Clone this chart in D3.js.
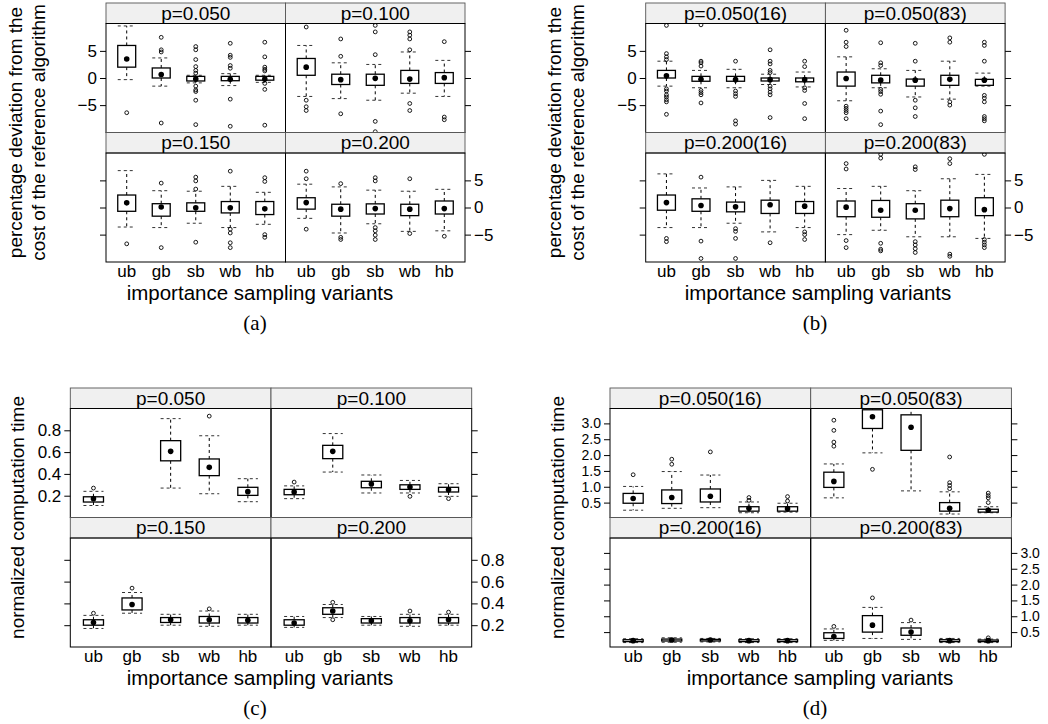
<!DOCTYPE html>
<html>
<head>
<meta charset="utf-8">
<script src="https://cdn.jsdelivr.net/npm/d3@7"></script>
<style>
  body { margin: 0; background: #fff; }
  text { font-family: "Liberation Sans", Arial, sans-serif; fill: #000; }
</style>
</head>
<body>
<div id="chart"></div>
<script>
// box plot data: [lower whisker, Q1, median, Q3, upper whisker] per variant, one block per panel
var categories = ["ub", "gb", "sb", "wb", "hb"];

var panelsA = ["p=0.050", "p=0.100", "p=0.150", "p=0.200"];
var panelsB = ["p=0.050(16)", "p=0.050(83)", "p=0.200(16)", "p=0.200(83)"];

var ticksDev = [-5, 0, 5];
var ticksC = [0.2, 0.4, 0.6, 0.8];
var ticksD = [0.5, 1.0, 1.5, 2.0, 2.5, 3.0];

var boxesA = [
  [[-0.3, 2.0, 3.5, 6.0, 9.6], [-1.5, 0.0, 0.65, 1.85, 3.7], [-0.9, -0.55, -0.2, 0.3, 0.5], [-1.4, -0.5, -0.25, 0.3, 0.8], [-0.8, -0.4, -0.2, 0.3, 0.5]],
  [[-3.4, 0.5, 2.0, 3.6, 6.0], [-3.8, -1.2, -0.3, 0.7, 2.8], [-4.1, -1.35, -0.06, 0.7, 2.5], [-2.8, -1.0, -0.2, 1.4, 4.8], [-3.4, -1.0, 0.06, 1.0, 3.25]],
  [[-3.6, -0.7, 0.86, 2.3, 6.8], [-3.7, -1.6, 0.1, 0.7, 3.1], [-2.9, -0.7, -0.06, 0.86, 3.0], [-3.7, -1.0, -0.06, 1.1, 3.9], [-3.1, -1.3, -0.25, 1.1, 2.8]],
  [[-2.0, -0.3, 0.9, 1.8, 4.3], [-4.7, -1.6, -0.3, 0.6, 3.8], [-3.0, -1.2, -0.2, 0.67, 3.2], [-4.4, -1.5, -0.3, 0.6, 3.0], [-4.3, -1.2, -0.2, 1.2, 3.35]]
];
var outliersA = [
  [[-6.4], [7.5, 5.2, 4.8, -8.3], [5.8, 5.2, 3.4, 2.1, 1.4, 0.9, -1.5, -2.2, -2.5, -4.1, -8.6], [6.4, 4.2, 3.8, 2.3, 1.8, -3.9, -8.9], [6.6, 3.9, 2.0, 1.6, 1.3, -1.0, -2.1, -8.7]],
  [[9.4, -4.1, -5.3, -6.0], [7.2, 4.0, -6.6], [9.7, 8.5, 4.3, -8.0, -9.9], [8.5, 7.9, 7.2, 5.2, -4.7, -6.0], [6.7, -7.2, -7.7]],
  [[-6.7], [4.5, -7.4], [5.6, 4.9, 3.4, -6.4], [6.7, -4.0, -4.7, -6.5, -7.4], [5.5, 4.8, -5.0, -5.5]],
  [[6.7, 5.3, -4.0], [4.4, -5.5, -5.9], [5.5, 4.9, -3.7, -4.3, -5.1, -5.9], [5.3, -4.8], [-5.3]]
];

var boxesB = [
  [[-1.5, 0.0, 0.4, 1.4, 3.1], [-1.8, -0.6, -0.25, 0.3, 1.4], [-1.8, -0.6, -0.3, 0.3, 1.6], [-1.2, -0.55, -0.3, 0.0, 0.7], [-1.65, -0.7, -0.3, 0.0, 1.1]],
  [[-4.2, -1.5, -0.1, 1.1, 3.9], [-1.8, -0.9, -0.4, 0.5, 1.7], [-3.5, -1.5, -0.4, -0.2, 1.4], [-3.9, -1.35, -0.25, 0.5, 3.1], [-1.5, -1.35, -0.4, -0.25, 0.9]],
  [[-3.7, -0.5, 0.9, 2.3, 6.2], [-3.7, -0.7, 0.37, 1.6, 3.6], [-2.9, -0.8, 0.12, 1.0, 3.8], [-4.5, -1.1, 0.5, 1.35, 5.0], [-3.7, -1.1, 0.25, 1.1, 3.9]],
  [[-5.0, -1.7, 0.06, 1.2, 3.5], [-4.2, -1.8, -0.5, 1.3, 3.9], [-5.4, -2.1, -0.5, 0.7, 3.1], [-5.4, -1.7, -0.2, 1.35, 5.3], [-5.7, -1.5, -0.4, 1.8, 6.1]]
];
var outliersB = [
  [[9.7, 4.5, 3.9, 3.4, -2.0, -2.4, -3.1, -3.5, -4.0, -4.4, -6.7], [9.8, 3.1, 2.8, 2.2, -2.3, -2.7, -3.1, -4.6], [3.1, -2.4, -2.9, -3.4, -7.9, -8.5], [5.2, 3.1, 2.6, 1.4, 1.0, -1.5, -2.0, -2.6, -3.1, -7.3], [3.1, 2.1, -1.8, -2.3, -4.7, -7.5]],
  [[8.8, 6.6, 5.8, -5.2, -5.6, -6.0, -6.4, -7.5], [6.5, 2.8, 2.3, -2.1, -2.5, -3.0, -6.1, -8.6], [6.4, 3.1, -4.1, -5.5, -7.1], [7.4, 6.6, -4.4, -5.0], [6.6, 6.0, 3.1, -3.2, -3.7, -4.4, -7.1, -7.5, -7.9]],
  [[-5.7, -6.3], [5.6, -6.2, -9.4], [-3.9, -4.4, -5.7, -9.4], [-6.5], [-4.5, -5.0, -5.9]],
  [[8.1, 7.1, -6.1, -7.4], [9.8, 9.1, -6.6, -7.7, -8.0], [7.5, 7.0, -6.3, -6.9, -7.6, -8.3], [9.0, 8.1, -8.6, -9.0], [9.8, -5.9, -6.4, -6.9, -7.4]]
];

var boxesC = [
  [[0.11, 0.142, 0.173, 0.19, 0.24], [1.1, 1.3, 1.45, 1.6, 1.9], [0.27, 0.52, 0.607, 0.705, 0.907], [0.218, 0.384, 0.46, 0.537, 0.75], [0.145, 0.203, 0.237, 0.277, 0.356]],
  [[0.173, 0.209, 0.234, 0.258, 0.29], [0.417, 0.54, 0.607, 0.662, 0.77], [0.225, 0.273, 0.307, 0.332, 0.39], [0.225, 0.258, 0.28, 0.3, 0.34], [0.194, 0.234, 0.255, 0.277, 0.31]],
  [[0.17, 0.2, 0.225, 0.25, 0.29], [0.31, 0.34, 0.39, 0.45, 0.5], [0.2, 0.225, 0.25, 0.27, 0.3], [0.19, 0.22, 0.25, 0.28, 0.33], [0.2, 0.22, 0.245, 0.27, 0.3]],
  [[0.18, 0.2, 0.22, 0.25, 0.28], [0.27, 0.3, 0.33, 0.36, 0.39], [0.2, 0.22, 0.24, 0.26, 0.28], [0.19, 0.22, 0.24, 0.27, 0.3], [0.2, 0.22, 0.25, 0.27, 0.3]]
];
var outliersC = [
  [[0.27], [], [], [0.93], []],
  [[0.325], [], [], [0.194], [0.173]],
  [[0.31], [0.54], [], [0.35], []],
  [[], [0.25, 0.41], [], [0.33], [0.32]]
];

var boxesD = [
  [[0.26, 0.48, 0.63, 0.79, 1.01], [0.32, 0.47, 0.66, 0.9, 1.48], [0.34, 0.52, 0.7, 0.93, 1.37], [0.18, 0.23, 0.32, 0.37, 0.52], [0.2, 0.23, 0.31, 0.37, 0.48]],
  [[0.65, 0.98, 1.17, 1.46, 1.72], [2.07, 2.84, 3.21, 3.43, 3.6], [0.87, 2.15, 2.88, 3.27, 3.6], [0.14, 0.23, 0.32, 0.5, 0.84], [0.18, 0.2, 0.26, 0.29, 0.37]],
  [[0.17, 0.2, 0.23, 0.26, 0.29], [0.18, 0.22, 0.25, 0.28, 0.32], [0.19, 0.22, 0.25, 0.27, 0.3], [0.17, 0.2, 0.23, 0.26, 0.29], [0.17, 0.2, 0.23, 0.26, 0.29]],
  [[0.24, 0.3, 0.36, 0.48, 0.6], [0.3, 0.5, 0.72, 1.02, 1.28], [0.27, 0.4, 0.5, 0.63, 0.8], [0.17, 0.2, 0.23, 0.26, 0.3], [0.17, 0.2, 0.23, 0.25, 0.28]]
];
var outliersD = [
  [[1.38], [1.87, 1.71], [2.1], [0.66, 0.57], [0.69, 0.55]],
  [[3.1, 2.78, 2.41, 2.28], [1.55], [], [1.94, 1.13, 1.04, 0.94], [0.8, 0.72, 0.65, 0.5]],
  [[], [], [], [], []],
  [[0.68], [1.58], [0.88], [], [0.32]]
];

var svg = d3.select("#chart").append("svg")
  .attr("width", 1048)
  .attr("height", 724)
  .style("display", "block");
svg.append("rect").attr("width", 1048).attr("height", 724).attr("fill", "#fff");

var clipId = 0;

function drawFigure(f) {
  var g = svg.append("g");
  var stripH = 20.5, panelH = 109;
  var boxW = f.colW * 0.1;

  var x = d3.scalePoint()
    .domain(categories)
    .range([0, f.colW])
    .padding(0.6);

  f.panels.forEach(function (label, i) {
    var col = i % 2, row = Math.floor(i / 2);
    var px = f.left + col * f.colW;
    var stripTop = f.top + row * (stripH + panelH);
    var panelTop = stripTop + stripH;

    var y = d3.scaleLinear()
      .domain(f.domain)
      .range([panelTop + panelH, panelTop]);

    // strip
    g.append("rect")
      .attr("x", px).attr("y", stripTop)
      .attr("width", f.colW).attr("height", stripH)
      .attr("fill", "#f0f0f0")
      .attr("stroke", "#555").attr("stroke-width", 0.9);
    g.append("text")
      .attr("x", px + f.colW / 2).attr("y", stripTop + stripH / 2 + 6.5)
      .attr("text-anchor", "middle")
      .attr("font-size", "19px")
      .text(label);

    // boxes, clipped to the panel
    clipId++;
    g.append("clipPath").attr("id", "clip" + clipId)
      .append("rect")
      .attr("x", px).attr("y", panelTop)
      .attr("width", f.colW).attr("height", panelH);

    var pg = g.append("g")
      .attr("clip-path", "url(#clip" + clipId + ")")
      .append("g")
      .attr("transform", "translate(" + px + ",0)");

    var stats = f.boxes[i];
    var bx = pg.selectAll("g.box")
      .data(categories)
      .enter().append("g")
      .attr("class", "box");

    // whiskers
    bx.append("line")
      .attr("x1", d => x(d)).attr("x2", d => x(d))
      .attr("y1", (d, j) => y(stats[j][3])).attr("y2", (d, j) => y(stats[j][4]))
      .attr("stroke", "#000").attr("stroke-width", 1).attr("stroke-dasharray", "3,3");
    bx.append("line")
      .attr("x1", d => x(d)).attr("x2", d => x(d))
      .attr("y1", (d, j) => y(stats[j][1])).attr("y2", (d, j) => y(stats[j][0]))
      .attr("stroke", "#000").attr("stroke-width", 1).attr("stroke-dasharray", "3,3");
    // whisker caps
    [0, 4].forEach(function (k) {
      bx.append("line")
        .attr("x1", d => x(d) - boxW / 2).attr("x2", d => x(d) + boxW / 2)
        .attr("y1", (d, j) => y(stats[j][k])).attr("y2", (d, j) => y(stats[j][k]))
        .attr("stroke", "#333").attr("stroke-width", 1).attr("stroke-dasharray", "3,3");
    });
    // box
    bx.append("rect")
      .attr("x", d => x(d) - boxW / 2)
      .attr("y", (d, j) => y(stats[j][3]))
      .attr("width", boxW)
      .attr("height", (d, j) => Math.max(0, y(stats[j][1]) - y(stats[j][3])))
      .attr("fill", "#fff")
      .attr("stroke", "#000").attr("stroke-width", 1.3);
    // median dot
    bx.append("circle")
      .attr("cx", d => x(d))
      .attr("cy", (d, j) => y(stats[j][2]))
      .attr("r", 2.8)
      .attr("fill", "#000");
    // outliers
    bx.each(function (d, j) {
      d3.select(this).selectAll("circle.out")
        .data(f.outliers[i][j])
        .enter().append("circle")
        .attr("class", "out")
        .attr("cx", x(d))
        .attr("cy", v => y(v))
        .attr("r", 1.9)
        .attr("fill", "none")
        .attr("stroke", "#000").attr("stroke-width", 0.9);
    });

    // panel frame
    g.append("rect")
      .attr("x", px).attr("y", panelTop)
      .attr("width", f.colW).attr("height", panelH)
      .attr("fill", "none")
      .attr("stroke", "#000").attr("stroke-width", 1);

    // y axes: labels left on top row, right on bottom row
    if (col === 0) {
      var left = g.append("g")
        .attr("transform", "translate(" + px + ",0)")
        .call(d3.axisLeft(y).tickValues(f.ticks).tickSize(6).tickPadding(3)
          .tickFormat(row === 0 ? f.fmt : ""));
      left.select(".domain").remove();
      left.selectAll("text").attr("font-size", f.tickSize).attr("font-family", null);
    } else {
      var right = g.append("g")
        .attr("transform", "translate(" + (px + f.colW) + ",0)")
        .call(d3.axisRight(y).tickValues(f.ticks).tickSize(6).tickPadding(3)
          .tickFormat(row === 1 ? f.fmt : ""));
      right.select(".domain").remove();
      right.selectAll("text").attr("font-size", f.tickSize).attr("font-family", null);
    }

    // category labels under the bottom row
    if (row === 1) {
      g.append("g")
        .selectAll("text")
        .data(categories)
        .enter().append("text")
        .attr("x", d => px + x(d))
        .attr("y", panelTop + panelH + 15)
        .attr("text-anchor", "middle")
        .attr("font-size", "17px")
        .text(d => d);
    }
  });

  var bottom = f.top + 2 * (stripH + panelH);
  var midY = (f.top + bottom) / 2;

  g.append("text")
    .attr("x", f.xTitleX).attr("y", bottom + 38)
    .attr("text-anchor", "middle")
    .attr("font-size", "20.5px")
    .text("importance sampling variants");

  f.yTitle.forEach(function (line, k) {
    g.append("text")
      .attr("transform", "translate(" + f.yTitleX[k] + "," + midY + ") rotate(-90)")
      .attr("text-anchor", "middle")
      .attr("dy", "0.35em")
      .attr("font-size", "19px")
      .text(line);
  });

  g.append("text")
    .attr("x", f.captionX).attr("y", bottom + 68)
    .attr("text-anchor", "middle")
    .attr("font-size", "21px")
    .style("font-family", "'Liberation Serif', 'DejaVu Serif', serif")
    .text(f.caption);
}

var fmtDev = d3.format("d");
var fmtTime = d3.format(".1f");
var devTitle = ["percentage deviation from the", "cost of the reference algorithm"];
var timeTitle = ["normalized computation time"];

drawFigure({ left: 106, top: 3, colW: 179.5, domain: [-10.05, 10.05], ticks: ticksDev, fmt: fmtDev, tickSize: "17px",
  panels: panelsA, boxes: boxesA, outliers: outliersA,
  yTitle: devTitle, yTitleX: [15, 38], xTitleX: 260, caption: "(a)", captionX: 255 });
drawFigure({ left: 645.7, top: 3, colW: 179.7, domain: [-10.05, 10.05], ticks: ticksDev, fmt: fmtDev, tickSize: "17px",
  panels: panelsB, boxes: boxesB, outliers: outliersB,
  yTitle: devTitle, yTitleX: [554, 577], xTitleX: 818, caption: "(b)", captionX: 815 });
drawFigure({ left: 70.3, top: 388, colW: 200.7, domain: [0, 1.0], ticks: ticksC, fmt: fmtTime, tickSize: "17px",
  panels: panelsA, boxes: boxesC, outliers: outliersC,
  yTitle: timeTitle, yTitleX: [17], xTitleX: 260, caption: "(c)", captionX: 255 });
drawFigure({ left: 610, top: 388, colW: 200.7, domain: [0.03, 3.47], ticks: ticksD, fmt: fmtTime, tickSize: "14px",
  panels: panelsB, boxes: boxesD, outliers: outliersD,
  yTitle: timeTitle, yTitleX: [557], xTitleX: 820, caption: "(d)", captionX: 815 });
</script>
</body>
</html>
